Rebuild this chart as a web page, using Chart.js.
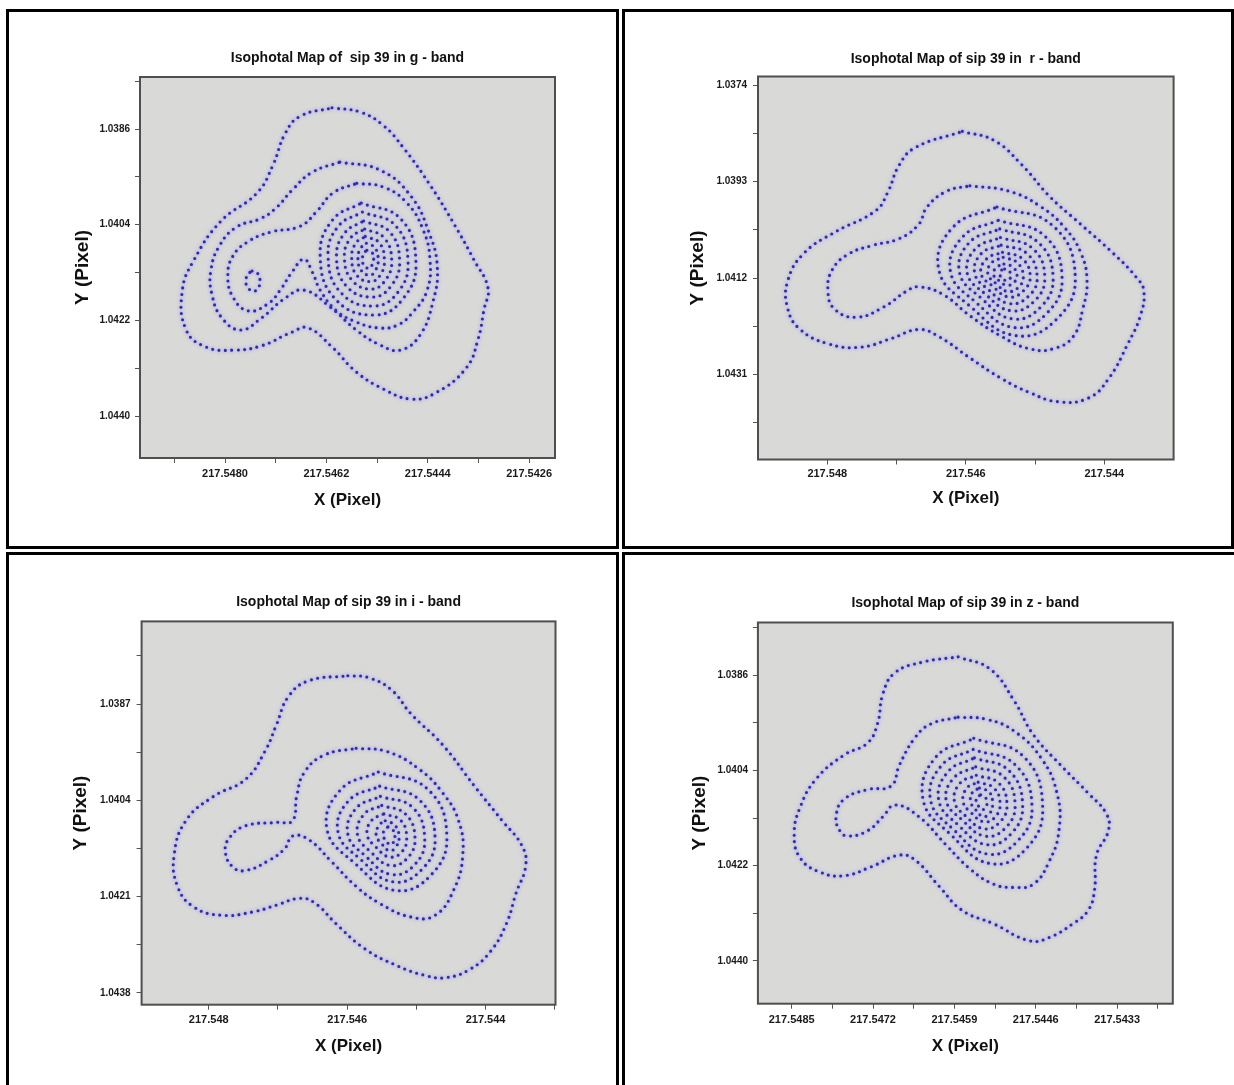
<!DOCTYPE html>
<html>
<head>
<meta charset="utf-8">
<title>Isophotal maps of sip 39</title>
<script src="https://cdn.jsdelivr.net/npm/chart.js@4.4.1/dist/chart.umd.min.js"></script>
<style>
  html, body { margin: 0; padding: 0; background: #fff; }
  body { width: 1234px; height: 1085px; position: relative; overflow: hidden; }
  .frame { position: absolute; border: 3px solid #000; box-sizing: border-box; }
  canvas { position: absolute; }
</style>
</head>
<body>
<div class="frame" style="left:6px;top:9px;width:613px;height:540px"></div>
<div class="frame" style="left:622px;top:9px;width:612px;height:540px"></div>
<div class="frame" style="left:6px;top:552px;width:613px;height:545px"></div>
<div class="frame" style="left:622px;top:552px;width:620px;height:545px"></div>
<canvas id="gBand"></canvas>
<canvas id="rBand"></canvas>
<canvas id="iBand"></canvas>
<canvas id="zBand"></canvas>
<script>
// ---- g band ----
const gXTicks = [217.5480, 217.5462, 217.5444, 217.5426];
const gXLabels = ['217.5480', '217.5462', '217.5444', '217.5426'];
const gXMinor = [217.5489, 217.5471, 217.5453, 217.5435];
const gYTicks = [1.0386, 1.0404, 1.0422, 1.0440];
const gYLabels = ['1.0386', '1.0404', '1.0422', '1.0440'];
const gYMinor = [1.0377, 1.0395, 1.0413, 1.0431];
const gXRange = [217.54214, 217.54951];
const gYRange = [1.03762, 1.04479];

const gOuter = [[217.54610,1.03820],[217.54560,1.03828],[217.54519,1.03853],[217.54484,1.03894],[217.54436,1.03965],[217.54392,1.04041],[217.54358,1.04106],[217.54333,1.04159],[217.54340,1.04199],[217.54351,1.04257],[217.54372,1.04310],[217.54427,1.04357],[217.54470,1.04368],[217.54519,1.04349],[217.54567,1.04317],[217.54610,1.04270],[217.54653,1.04234],[217.54681,1.04242],[217.54736,1.04268],[217.54786,1.04276],[217.54834,1.04270],[217.54869,1.04238],[217.54876,1.04165],[217.54855,1.04106],[217.54807,1.04033],[217.54743,1.03980],[217.54715,1.03928],[217.54693,1.03868],[217.54667,1.03836],[217.54610,1.03820]];
const gMid = [[217.54596,1.03922],[217.54525,1.03937],[217.54470,1.03986],[217.54438,1.04054],[217.54423,1.04120],[217.54431,1.04186],[217.54454,1.04248],[217.54489,1.04276],[217.54525,1.04266],[217.54567,1.04238],[217.54613,1.04195],[217.54660,1.04163],[217.54693,1.04178],[217.54736,1.04216],[217.54772,1.04238],[217.54805,1.04216],[217.54823,1.04172],[217.54825,1.04125],[217.54809,1.04078],[217.54779,1.04044],[217.54736,1.04028],[217.54708,1.04007],[217.54681,1.03975],[217.54645,1.03941],[217.54596,1.03922]];
const gInner = [[217.54566,1.03962],[217.54519,1.03969],[217.54477,1.03999],[217.54448,1.04050],[217.54436,1.04106],[217.54441,1.04163],[217.54466,1.04204],[217.54494,1.04229],[217.54528,1.04234],[217.54567,1.04223],[217.54603,1.04201],[217.54631,1.04163],[217.54645,1.04129],[217.54660,1.04105],[217.54681,1.04129],[217.54702,1.04163],[217.54724,1.04189],[217.54759,1.04202],[217.54786,1.04176],[217.54795,1.04135],[217.54786,1.04099],[217.54761,1.04073],[217.54720,1.04054],[217.54667,1.04043],[217.54638,1.04016],[217.54608,1.03980],[217.54566,1.03962]];
const gKnot = [[217.54752,1.04127],[217.54741,1.04133],[217.54738,1.04146],[217.54741,1.04159],[217.54749,1.04165],[217.54759,1.04159],[217.54763,1.04146],[217.54759,1.04133],[217.54752,1.04127]];
const gRings = [
  [[217.54558,1.03999],[217.54488,1.04029],[217.54461,1.04110],[217.54483,1.04178],[217.54534,1.04210],[217.54604,1.04180],[217.54631,1.04099],[217.54609,1.04031],[217.54558,1.03999]],
  [[217.54556,1.04016],[217.54498,1.04041],[217.54475,1.04109],[217.54493,1.04167],[217.54536,1.04193],[217.54594,1.04168],[217.54617,1.04100],[217.54599,1.04043],[217.54556,1.04016]],
  [[217.54554,1.04033],[217.54508,1.04053],[217.54490,1.04108],[217.54505,1.04155],[217.54538,1.04176],[217.54584,1.04156],[217.54602,1.04101],[217.54587,1.04055],[217.54554,1.04033]],
  [[217.54552,1.04048],[217.54518,1.04064],[217.54504,1.04107],[217.54515,1.04144],[217.54540,1.04161],[217.54574,1.04145],[217.54588,1.04102],[217.54577,1.04065],[217.54552,1.04048]],
  [[217.54551,1.04062],[217.54526,1.04074],[217.54517,1.04107],[217.54524,1.04134],[217.54541,1.04147],[217.54566,1.04135],[217.54575,1.04103],[217.54568,1.04075],[217.54551,1.04062]],
  [[217.54549,1.04075],[217.54534,1.04083],[217.54528,1.04106],[217.54533,1.04126],[217.54543,1.04135],[217.54558,1.04126],[217.54564,1.04103],[217.54559,1.04084],[217.54549,1.04075]],
  [[217.54548,1.04088],[217.54539,1.04092],[217.54536,1.04106],[217.54539,1.04116],[217.54544,1.04122],[217.54553,1.04117],[217.54556,1.04104],[217.54553,1.04093],[217.54548,1.04088]]
];

// ---- r band ----
const rXTicks = [217.548, 217.546, 217.544];
const rXLabels = ['217.548', '217.546', '217.544'];
const rXMinor = [217.547, 217.545];
const rYTicks = [1.0374, 1.0393, 1.0412, 1.0431];
const rYLabels = ['1.0374', '1.0393', '1.0412', '1.0431'];
const rYMinor = [1.03835, 1.04025, 1.04215, 1.04405];
const rXRange = [217.54300, 217.54900];
const rYRange = [1.03723, 1.04477];

const rOuter = [[217.54605,1.03831],[217.54559,1.03849],[217.54519,1.03897],[217.54479,1.03959],[217.54434,1.04014],[217.54388,1.04070],[217.54354,1.04118],[217.54343,1.04145],[217.54348,1.04194],[217.54366,1.04249],[217.54394,1.04318],[217.54423,1.04356],[217.54468,1.04363],[217.54508,1.04345],[217.54548,1.04318],[217.54594,1.04277],[217.54639,1.04235],[217.54668,1.04221],[217.54708,1.04239],[217.54753,1.04256],[217.54799,1.04249],[217.54839,1.04221],[217.54857,1.04180],[217.54857,1.04125],[217.54833,1.04070],[217.54787,1.04028],[217.54730,1.03987],[217.54713,1.03952],[217.54696,1.03897],[217.54673,1.03863],[217.54605,1.03831]];
const rMid = [[217.54594,1.03938],[217.54537,1.03949],[217.54491,1.03980],[217.54457,1.04021],[217.54434,1.04070],[217.54425,1.04125],[217.54431,1.04180],[217.54445,1.04235],[217.54474,1.04259],[217.54508,1.04259],[217.54548,1.04235],[217.54594,1.04194],[217.54633,1.04152],[217.54668,1.04137],[217.54685,1.04145],[217.54719,1.04177],[217.54759,1.04197],[217.54790,1.04180],[217.54799,1.04145],[217.54793,1.04104],[217.54770,1.04073],[217.54736,1.04056],[217.54696,1.04042],[217.54668,1.04014],[217.54656,1.03980],[217.54628,1.03949],[217.54594,1.03938]];
const rRings = [
  [[217.54555,1.03980],[217.54475,1.04016],[217.54442,1.04116],[217.54469,1.04201],[217.54528,1.04233],[217.54594,1.04175],[217.54639,1.04103],[217.54618,1.04019],[217.54555,1.03980]],
  [[217.54553,1.04006],[217.54487,1.04036],[217.54461,1.04119],[217.54483,1.04189],[217.54531,1.04217],[217.54585,1.04168],[217.54622,1.04108],[217.54604,1.04038],[217.54553,1.04006]],
  [[217.54551,1.04023],[217.54496,1.04049],[217.54474,1.04118],[217.54492,1.04177],[217.54533,1.04200],[217.54578,1.04159],[217.54609,1.04109],[217.54595,1.04050],[217.54551,1.04023]],
  [[217.54550,1.04040],[217.54504,1.04061],[217.54486,1.04117],[217.54501,1.04165],[217.54535,1.04184],[217.54572,1.04151],[217.54598,1.04110],[217.54586,1.04062],[217.54550,1.04040]],
  [[217.54549,1.04055],[217.54512,1.04071],[217.54497,1.04117],[217.54509,1.04155],[217.54537,1.04170],[217.54567,1.04143],[217.54587,1.04111],[217.54578,1.04072],[217.54549,1.04055]],
  [[217.54547,1.04069],[217.54519,1.04081],[217.54507,1.04116],[217.54517,1.04145],[217.54538,1.04157],[217.54561,1.04136],[217.54578,1.04111],[217.54570,1.04082],[217.54547,1.04069]],
  [[217.54546,1.04079],[217.54526,1.04089],[217.54517,1.04116],[217.54524,1.04138],[217.54540,1.04146],[217.54556,1.04131],[217.54568,1.04112],[217.54563,1.04090],[217.54546,1.04079]],
  [[217.54545,1.04092],[217.54532,1.04098],[217.54526,1.04115],[217.54531,1.04129],[217.54541,1.04134],[217.54552,1.04125],[217.54560,1.04113],[217.54556,1.04099],[217.54545,1.04092]],
  [[217.54544,1.04102],[217.54538,1.04105],[217.54535,1.04114],[217.54537,1.04122],[217.54542,1.04125],[217.54547,1.04120],[217.54551,1.04113],[217.54549,1.04105],[217.54544,1.04102]]
];

// ---- i band ----
const iXTicks = [217.548, 217.546, 217.544];
const iXLabels = ['217.548', '217.546', '217.544'];
const iXMinor = [217.547, 217.545, 217.543];
const iYTicks = [1.0387, 1.0404, 1.0421, 1.0438];
const iYLabels = ['1.0387', '1.0404', '1.0421', '1.0438'];
const iYMinor = [1.03785, 1.03955, 1.04125, 1.04295];
const iXRange = [217.54299, 217.54897];
const iYRange = [1.03724, 1.04401];

const iOuter = [[217.54599,1.03820],[217.54570,1.03823],[217.54536,1.03845],[217.54508,1.03887],[217.54462,1.03942],[217.54416,1.04015],[217.54376,1.04076],[217.54348,1.04119],[217.54342,1.04155],[217.54356,1.04204],[217.54370,1.04258],[217.54393,1.04307],[217.54422,1.04338],[217.54456,1.04353],[217.54485,1.04350],[217.54530,1.04331],[217.54576,1.04301],[217.54616,1.04258],[217.54646,1.04222],[217.54668,1.04213],[217.54702,1.04225],[217.54736,1.04237],[217.54782,1.04243],[217.54822,1.04228],[217.54845,1.04192],[217.54850,1.04137],[217.54833,1.04076],[217.54793,1.04033],[217.54747,1.04003],[217.54719,1.03954],[217.54702,1.03906],[217.54685,1.03857],[217.54656,1.03829],[217.54599,1.03820]];
const iMid = [[217.54587,1.03948],[217.54542,1.03954],[217.54496,1.03985],[217.54462,1.04027],[217.54439,1.04076],[217.54433,1.04137],[217.54446,1.04198],[217.54473,1.04243],[217.54508,1.04246],[217.54553,1.04222],[217.54587,1.04192],[217.54622,1.04149],[217.54656,1.04109],[217.54679,1.04103],[217.54690,1.04125],[217.54713,1.04146],[217.54747,1.04164],[217.54765,1.04158],[217.54776,1.04131],[217.54770,1.04106],[217.54747,1.04085],[217.54702,1.04079],[217.54679,1.04076],[217.54673,1.04033],[217.54662,1.03991],[217.54633,1.03960],[217.54587,1.03948]];
const iRings = [
  [[217.54555,1.03990],[217.54484,1.04020],[217.54456,1.04102],[217.54479,1.04172],[217.54531,1.04199],[217.54589,1.04151],[217.54629,1.04092],[217.54610,1.04022],[217.54555,1.03990]],
  [[217.54553,1.04015],[217.54496,1.04039],[217.54473,1.04106],[217.54492,1.04162],[217.54534,1.04184],[217.54580,1.04145],[217.54613,1.04097],[217.54598,1.04041],[217.54553,1.04015]],
  [[217.54552,1.04033],[217.54506,1.04052],[217.54488,1.04107],[217.54502,1.04153],[217.54536,1.04171],[217.54573,1.04139],[217.54599,1.04100],[217.54587,1.04054],[217.54552,1.04033]],
  [[217.54550,1.04049],[217.54516,1.04064],[217.54502,1.04106],[217.54513,1.04142],[217.54538,1.04155],[217.54566,1.04131],[217.54585,1.04101],[217.54576,1.04065],[217.54550,1.04049]],
  [[217.54547,1.04064],[217.54523,1.04075],[217.54514,1.04105],[217.54521,1.04131],[217.54539,1.04140],[217.54558,1.04123],[217.54571,1.04101],[217.54565,1.04076],[217.54547,1.04064]],
  [[217.54545,1.04076],[217.54531,1.04084],[217.54525,1.04105],[217.54530,1.04123],[217.54539,1.04129],[217.54550,1.04117],[217.54558,1.04102],[217.54554,1.04084],[217.54545,1.04076]],
  [[217.54541,1.04087],[217.54534,1.04092],[217.54531,1.04104],[217.54533,1.04114],[217.54538,1.04118],[217.54544,1.04111],[217.54548,1.04102],[217.54546,1.04092],[217.54541,1.04087]]
];

// ---- z band ----
const zXTicks = [217.5485, 217.5472, 217.5459, 217.5446, 217.5433];
const zXLabels = ['217.5485', '217.5472', '217.5459', '217.5446', '217.5433'];
const zXMinor = [217.54785, 217.54655, 217.54525, 217.54395, 217.54265];
const zYTicks = [1.0386, 1.0404, 1.0422, 1.0440];
const zYLabels = ['1.0386', '1.0404', '1.0422', '1.0440'];
const zYMinor = [1.0377, 1.0395, 1.0413, 1.0431];
const zXRange = [217.54241, 217.54904];
const zYRange = [1.03760, 1.04481];

const zOuter = [[217.54584,1.03825],[217.54533,1.03848],[217.54495,1.03907],[217.54464,1.03972],[217.54420,1.04030],[217.54376,1.04083],[217.54347,1.04122],[217.54344,1.04154],[217.54363,1.04200],[217.54366,1.04265],[217.54376,1.04304],[217.54401,1.04330],[217.54439,1.04356],[217.54470,1.04362],[217.54527,1.04330],[217.54578,1.04304],[217.54615,1.04258],[217.54653,1.04209],[217.54678,1.04200],[217.54723,1.04222],[217.54767,1.04239],[217.54805,1.04232],[217.54836,1.04206],[217.54846,1.04161],[217.54836,1.04108],[217.54811,1.04056],[217.54767,1.04011],[217.54729,1.03988],[217.54713,1.03952],[217.54704,1.03894],[217.54685,1.03855],[217.54641,1.03835],[217.54584,1.03825]];
const zMid = [[217.54584,1.03939],[217.54539,1.03943],[217.54495,1.03965],[217.54451,1.04017],[217.54426,1.04083],[217.54423,1.04154],[217.54439,1.04213],[217.54464,1.04255],[217.54495,1.04261],[217.54527,1.04255],[217.54565,1.04226],[217.54603,1.04181],[217.54647,1.04127],[217.54685,1.04105],[217.54704,1.04127],[217.54729,1.04154],[217.54760,1.04164],[217.54773,1.04154],[217.54779,1.04127],[217.54767,1.04095],[217.54729,1.04076],[217.54691,1.04069],[217.54678,1.04030],[217.54653,1.03978],[217.54628,1.03952],[217.54584,1.03939]];
const zRings = [
  [[217.54559,1.03979],[217.54480,1.04013],[217.54449,1.04107],[217.54474,1.04186],[217.54532,1.04216],[217.54596,1.04161],[217.54640,1.04095],[217.54620,1.04015],[217.54559,1.03979]],
  [[217.54560,1.04000],[217.54493,1.04029],[217.54466,1.04107],[217.54488,1.04172],[217.54537,1.04198],[217.54591,1.04152],[217.54628,1.04096],[217.54611,1.04031],[217.54560,1.04000]],
  [[217.54558,1.04016],[217.54503,1.04040],[217.54481,1.04105],[217.54499,1.04159],[217.54539,1.04180],[217.54584,1.04143],[217.54615,1.04096],[217.54600,1.04042],[217.54558,1.04016]],
  [[217.54556,1.04033],[217.54511,1.04052],[217.54493,1.04104],[217.54508,1.04148],[217.54541,1.04164],[217.54577,1.04134],[217.54603,1.04097],[217.54591,1.04054],[217.54556,1.04033]],
  [[217.54555,1.04049],[217.54520,1.04063],[217.54506,1.04103],[217.54517,1.04137],[217.54543,1.04150],[217.54571,1.04127],[217.54590,1.04098],[217.54581,1.04064],[217.54555,1.04049]],
  [[217.54552,1.04062],[217.54527,1.04073],[217.54517,1.04102],[217.54525,1.04128],[217.54543,1.04137],[217.54563,1.04120],[217.54576,1.04099],[217.54570,1.04073],[217.54552,1.04062]],
  [[217.54550,1.04073],[217.54534,1.04081],[217.54529,1.04102],[217.54533,1.04120],[217.54544,1.04127],[217.54556,1.04114],[217.54564,1.04099],[217.54561,1.04081],[217.54550,1.04073]],
  [[217.54548,1.04086],[217.54541,1.04090],[217.54538,1.04101],[217.54540,1.04110],[217.54546,1.04114],[217.54551,1.04108],[217.54555,1.04100],[217.54554,1.04091],[217.54548,1.04086]]
];

// ---- page layout (page pixels) ----
const panels = [
  { id: 'gBand', title: 'Isophotal Map of  sip 39 in g - band',
    box: { x: 9, y: 12, w: 607, h: 534 }, plot: { l: 140, r: 555, t: 77, b: 458 },
    titleY: 58, yTitleX: 83, xTitleY: 500, xLabelY: 473.7, yLabelRight: 130,
    xRange: gXRange, yRange: gYRange, xTicks: gXTicks, xLabels: gXLabels, xMinor: gXMinor,
    yTicks: gYTicks, yLabels: gYLabels, yMinor: gYMinor,
    contours: [gOuter, gMid, gInner, gKnot, ...gRings] },
  { id: 'rBand', title: 'Isophotal Map of sip 39 in  r - band',
    box: { x: 625, y: 12, w: 606, h: 534 }, plot: { l: 758, r: 1173.6, t: 76.5, b: 459.5 },
    titleY: 58.9, yTitleX: 698, xTitleY: 498, xLabelY: 473.5, yLabelRight: 747,
    xRange: rXRange, yRange: rYRange, xTicks: rXTicks, xLabels: rXLabels, xMinor: rXMinor,
    yTicks: rYTicks, yLabels: rYLabels, yMinor: rYMinor,
    contours: [rOuter, rMid, ...rRings] },
  { id: 'iBand', title: 'Isophotal Map of sip 39 in i - band',
    box: { x: 9, y: 555, w: 607, h: 530 }, plot: { l: 141.6, r: 555.5, t: 621.4, b: 1004.7 },
    titleY: 601.8, yTitleX: 81, xTitleY: 1046, xLabelY: 1020.2, yLabelRight: 130.5,
    xRange: iXRange, yRange: iYRange, xTicks: iXTicks, xLabels: iXLabels, xMinor: iXMinor,
    yTicks: iYTicks, yLabels: iYLabels, yMinor: iYMinor,
    contours: [iOuter, iMid, ...iRings] },
  { id: 'zBand', title: 'Isophotal Map of sip 39 in z - band',
    box: { x: 625, y: 555, w: 609, h: 530 }, plot: { l: 757.9, r: 1172.8, t: 622.5, b: 1003.7 },
    titleY: 602.9, yTitleX: 700, xTitleY: 1046, xLabelY: 1020.2, yLabelRight: 748,
    xRange: zXRange, yRange: zYRange, xTicks: zXTicks, xLabels: zXLabels, xMinor: zXMinor,
    yTicks: zYTicks, yLabels: zYLabels, yMinor: zYMinor,
    contours: [zOuter, zMid, ...zRings] }
];

const TITLE_SIZE = 14;
const X_TITLE_SIZE = 17;
const Y_TITLE_SIZE = 19;
const X_TICK_SIZE = 11;
const Y_TICK_SIZE = 10;
const TICK_LEN = 5;
const DOT_COLOR = '#2f2ab0';

Chart.defaults.font.family = "'Liberation Sans', Arial, Helvetica, sans-serif";
Chart.defaults.color = '#111';

// grey plot area, soft halo on the dots, dark frame
const plotFrame = {
  id: 'plotFrame',
  beforeDraw(chart) {
    const { ctx, chartArea: a } = chart;
    ctx.save();
    ctx.fillStyle = '#d9d9d7';
    ctx.fillRect(a.left, a.top, a.width, a.height);
    ctx.restore();
  },
  beforeDatasetsDraw(chart) {
    const ctx = chart.ctx;
    ctx.save();
    ctx.shadowColor = 'rgba(120, 120, 255, 0.9)';
    ctx.shadowBlur = 3.5;
  },
  afterDatasetsDraw(chart) {
    const { ctx, chartArea: a } = chart;
    ctx.restore();
    ctx.save();
    ctx.strokeStyle = '#4f4f4f';
    ctx.lineWidth = 2;
    ctx.strokeRect(a.left, a.top, a.width, a.height);
    ctx.restore();
  }
};

const tickList = (major, minor) =>
  [...major, ...minor].sort((a, b) => a - b).map(v => ({ value: v }));

const labelFor = (major, labels) => (value) => {
  const i = major.findIndex(v => Math.abs(v - value) < 1e-8);
  return i >= 0 ? labels[i] : '';
};

function drawPanel(p) {
  const cv = document.getElementById(p.id);
  cv.width = p.box.w;
  cv.height = p.box.h;
  cv.style.left = p.box.x + 'px';
  cv.style.top = p.box.y + 'px';

  const yW = p.plot.l - p.box.x;
  const titleH = p.plot.t - p.box.y;
  const xH = p.box.y + p.box.h - p.plot.b;
  const padRight = p.box.x + p.box.w - p.plot.r;
  const titleLh = TITLE_SIZE * 1.2;
  const titleTop = (p.titleY - p.box.y) - titleLh / 2;

  const datasets = p.contours.map(c => ({
    data: c,
    showLine: true,
    fill: false,
    tension: 0.45,
    borderColor: DOT_COLOR,
    borderWidth: 3.1,
    borderDash: [0, 6.4],
    borderCapStyle: 'round',
    pointRadius: 0,
    pointHoverRadius: 0
  }));

  return new Chart(cv, {
    type: 'scatter',
    data: { datasets },
    options: {
      responsive: false,
      animation: false,
      events: [],
      layout: { padding: { left: 0, top: 0, right: padRight, bottom: 0 } },
      plugins: {
        legend: { display: false },
        tooltip: { enabled: false },
        title: {
          display: true,
          text: p.title,
          fullSize: false,
          color: '#111',
          font: { size: TITLE_SIZE, weight: 'bold' },
          padding: { top: titleTop, bottom: titleH - titleLh - titleTop }
        }
      },
      scales: {
        x: {
          type: 'linear',
          reverse: true,
          min: p.xRange[0],
          max: p.xRange[1],
          afterFit: (s) => { s.height = xH; },
          afterBuildTicks: (s) => { s.ticks = tickList(p.xTicks, p.xMinor); },
          border: { display: false },
          grid: { drawOnChartArea: false, drawTicks: true, tickLength: TICK_LEN, tickColor: '#555', tickWidth: 1 },
          ticks: {
            autoSkip: false,
            maxRotation: 0,
            color: '#1a1a1a',
            font: { size: X_TICK_SIZE, weight: 'bold' },
            padding: (p.xLabelY - p.plot.b) - TICK_LEN - X_TICK_SIZE * 0.6,
            callback: labelFor(p.xTicks, p.xLabels)
          },
          title: {
            display: true,
            text: 'X (Pixel)',
            color: '#111',
            font: { size: X_TITLE_SIZE, weight: 'bold' },
            padding: { top: 0, bottom: (p.box.y + p.box.h) - p.xTitleY - X_TITLE_SIZE * 0.6 }
          }
        },
        y: {
          type: 'linear',
          reverse: true,
          min: p.yRange[0],
          max: p.yRange[1],
          afterFit: (s) => { s.width = yW; },
          afterBuildTicks: (s) => { s.ticks = tickList(p.yTicks, p.yMinor); },
          border: { display: false },
          grid: { drawOnChartArea: false, drawTicks: true, tickLength: TICK_LEN, tickColor: '#555', tickWidth: 1 },
          ticks: {
            autoSkip: false,
            color: '#1a1a1a',
            font: { size: Y_TICK_SIZE, weight: 'bold' },
            padding: (p.plot.l - p.yLabelRight) - TICK_LEN,
            callback: labelFor(p.yTicks, p.yLabels)
          },
          title: {
            display: true,
            text: 'Y (Pixel)',
            color: '#111',
            font: { size: Y_TITLE_SIZE, weight: 'bold' },
            padding: { top: (p.yTitleX - p.box.x) - Y_TITLE_SIZE * 0.6, bottom: 0 }
          }
        }
      }
    },
    plugins: [plotFrame]
  });
}

panels.forEach(drawPanel);
</script>
</body>
</html>
